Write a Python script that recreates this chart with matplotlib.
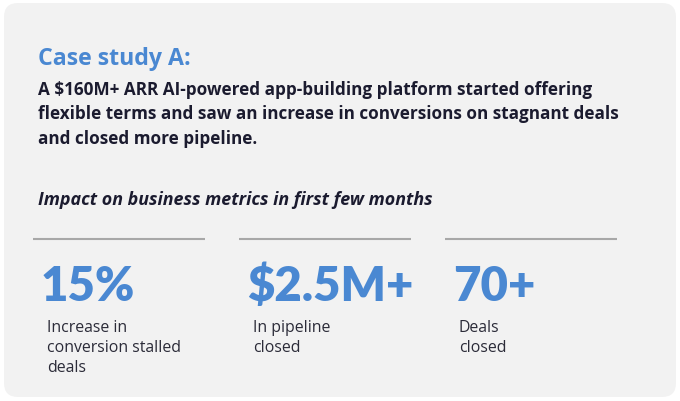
import matplotlib
matplotlib.use("Agg")
import matplotlib.pyplot as plt
from matplotlib.patches import FancyBboxPatch

title = "Case study A:"
body_lines = [
    "A $160M+ ARR AI-powered app-building platform started offering",
    "flexible terms and saw an increase in conversions on stagnant deals",
    "and closed more pipeline.",
]
subtitle = "Impact on business metrics in first few months"
metric_values = ["15%", "$2.5M+", "70+"]
metric_labels = [
    ["Increase in", "conversion stalled", "deals"],
    ["In pipeline", "closed"],
    ["Deals", "closed"],
]

BLUE = "#4a88d2"
DARK = "#1b1b2f"
LABEL = "#2b2b38"
HEAD = ["Lato", "DejaVu Sans"]
BODY = ["Open Sans", "DejaVu Sans"]

W, H = 680, 402
fig = plt.figure(figsize=(W / 100, H / 100), dpi=100)
fig.patch.set_facecolor("white")
ax = fig.add_axes([0, 0, 1, 1])
ax.set_xlim(0, W)
ax.set_ylim(H, 0)
ax.axis("off")
renderer = fig.canvas.get_renderer()


def fit_size(text, target_px, **kw):
    t = ax.text(0, 0, text, fontsize=10, **kw)
    w = t.get_window_extent(renderer).width
    t.remove()
    return 10 * target_px / w


card = FancyBboxPatch((4, 4), 672, 394, boxstyle="round,pad=0,rounding_size=14",
                      facecolor="#f2f2f2", edgecolor="none")
ax.add_patch(card)

title_kw = dict(fontweight="bold", family=BODY)
ts = fit_size(title, 153, **title_kw)
ax.text(38, 65, title, fontsize=ts, color=BLUE, va="baseline", ha="left", **title_kw)

body_kw = dict(fontweight="bold", family=BODY)
bs = fit_size(body_lines[0], 554, **body_kw)
for i, line in enumerate(body_lines):
    ax.text(38, 95 + 24.3 * i, line, fontsize=bs, color=DARK,
            va="baseline", ha="left", **body_kw)

it_kw = dict(fontweight="bold", style="italic", family=BODY)
its = fit_size(subtitle, 395, **it_kw)
ax.text(38, 205, subtitle, fontsize=its, color=DARK, va="baseline", ha="left", **it_kw)

lab_kw = dict(family=BODY)
ls = fit_size(metric_labels[0][1], 134, **lab_kw)

col_x = [33, 239, 445]
for i, (val, labs) in enumerate(zip(metric_values, metric_labels)):
    x0 = col_x[i]
    ax.plot([x0, x0 + 172], [240, 240], color="#a8a8a8", lw=1.5,
            solid_capstyle="butt")
    ax.text(x0 + 8, 301, val, fontsize=34, fontweight="heavy", color=BLUE,
            family=HEAD, va="baseline", ha="left")
    for j, lab in enumerate(labs):
        ax.text(x0 + 14, 332 + 20.2 * j, lab, fontsize=ls, color=LABEL,
                va="baseline", ha="left", **lab_kw)

fig.savefig("out.png", dpi=100, facecolor="white")
